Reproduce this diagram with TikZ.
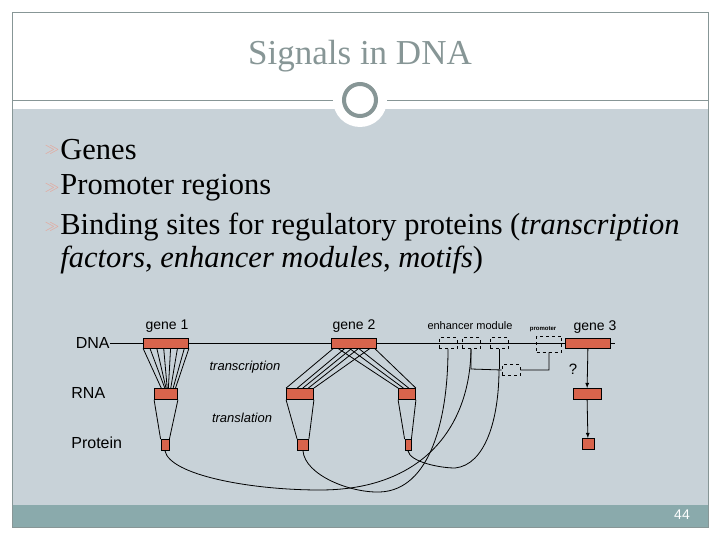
\documentclass[tikz,border=0pt]{standalone}
\usepackage{fontspec}
\setmainfont{Liberation Serif}
\setsansfont{Liberation Sans}
\usetikzlibrary{calc}
\definecolor{slidebg}{RGB}{200,210,216}
\definecolor{framegray}{RGB}{135,150,150}
\definecolor{barteal}{RGB}{138,170,172}
\definecolor{genered}{RGB}{216,100,76}
\begin{document}
\begin{tikzpicture}[x=1pt, y=-1pt, line width=0.8pt, font=\sffamily\fontsize{14}{16}\selectfont]
        \tikzset{gbox/.style={rectangle, draw=black, fill=genered, inner sep=0pt},
                 dbox/.style={rectangle, draw=black, dashed, inner sep=0pt, minimum width=18, minimum height=11},
                 bul/.style={text=genered!60, font=\fontsize{14}{14}\selectfont, inner sep=0pt},
                 item/.style={anchor=west, font=\rmfamily\fontsize{30.5}{32}\selectfont, inner sep=0pt},
                 lvl/.style={inner sep=0pt, font=\sffamily\fontsize{16}{18}\selectfont}}
        \useasboundingbox (0,0) rectangle (720,540);

        % slide
        \fill[white] (0,0) rectangle (720,540);
        \fill[slidebg] (12,109) rectangle (708,505);
        \fill[barteal] (12,505) rectangle (708,527);
        \draw[framegray, thin] (12,12) rectangle (708,527);
        \draw[framegray, thin] (12,100) -- (708,100);
        \fill[white] (360,100) circle (27);
        \draw[framegray, line width=4] (360,100) circle (16);
        \node[font=\rmfamily\fontsize{35}{37}\selectfont, text=framegray] (title) at (360,56) {Signals in DNA};
        \node[text=white, font=\sffamily\fontsize{14}{14}\selectfont] (page) at (682,515) {44};

        \node[bul] (b1) at (52,150) {$\gg$};
        \node[item] (t1) at (60,150) {Genes};
        \node[bul] (b2) at (52,188) {$\gg$};
        \node[item] (t2) at (60,188) {Promoter regions};
        \node[bul] (b3) at (52,227) {$\gg$};
        \node[item] (t3) at (60,227) {Binding sites for regulatory proteins (\textit{transcription}};
        \node[item] (t4) at (60,260) {\textit{factors}, \textit{enhancer modules}, \textit{motifs})};

        % levels
        \node[lvl, anchor=east] (dna) at (110,343) {DNA};
        \node[lvl, anchor=west] (rna) at (71,393) {RNA};
        \node[lvl, anchor=west] (prot) at (71,443) {Protein};
        \node[font=\sffamily\itshape\fontsize{13}{15}\selectfont] (tsc) at (245,367) {transcription};
        \node[font=\sffamily\itshape\fontsize{13}{15}\selectfont] (tsl) at (242,418) {translation};
        \draw (dna.east) -- (615,343);

        % genes
        \node[gbox, minimum width=45, minimum height=10] (g1) at (166,343) {};
        \node[gbox, minimum width=45, minimum height=10] (g2) at (354,343) {};
        \node[gbox, minimum width=45, minimum height=10] (g3) at (588,343) {};
        \node (l1) at (167,326) {gene 1};
        \node (l2) at (354,326) {gene 2};
        \node (l3) at (595,327) {gene 3};
        \node[font=\sffamily\bfseries\fontsize{6}{7}\selectfont] (lp) at (543,329) {promoter};
        \node[font=\sffamily\fontsize{11}{13}\selectfont] (le) at (470,326) {enhancer module};

        \node[gbox, minimum width=23, minimum height=11] (r1) at (166,394) {};
        \node[gbox, minimum width=27, minimum height=11] (r2) at (300,394) {};
        \node[gbox, minimum width=17, minimum height=11] (r3) at (407,394) {};
        \node[gbox, minimum width=28, minimum height=11] (r4) at (587,394) {};
        \node[gbox, minimum width=8, minimum height=11] (p1) at (165,445) {};
        \node[gbox, minimum width=11, minimum height=11] (p2) at (303,445) {};
        \node[gbox, minimum width=6, minimum height=11] (p3) at (408,445) {};
        \node[gbox, minimum width=12, minimum height=11] (p4) at (588,444) {};

        % signals
        \node[dbox] (e1) at (448,343) {};
        \node[dbox] (e2) at (471,343) {};
        \node[dbox] (e3) at (499,343) {};
        \node[dbox, minimum width=25, minimum height=16] (pr) at (549,344) {};
        \node[dbox] (e4) at (511,370) {};
        \coordinate (j) at (499,369);

        % transcription and translation
        \foreach \a/\b in {0/.3,.15/.45,.3/.5,.45/.55,.6/.6,.75/.7,.9/.8,1/.9}
            \draw ($(g1.south west)!\a!(g1.south east)$) -- ($(r1.north west)!\b!(r1.north east)$);
        \foreach \a/\b in {.05/0,.3/.4,.45/.6,.6/.8,.85/1}
            \draw ($(g2.south west)!\a!(g2.south east)$) -- ($(r2.north west)!\b!(r2.north east)$);
        \foreach \a/\b in {.15/0,.4/.3,.6/.6,.95/1}
            \draw ($(g2.south west)!\a!(g2.south east)$) -- ($(r3.north west)!\b!(r3.north east)$);
        \foreach \r/\p in {r1/p1,r2/p2,r3/p3} {
            \draw (\r.south west) -- (\p.north west);
            \draw (\r.south east) -- (\p.north east);
        }
        \draw[thick, -latex] (g3) -- (r4);
        \draw[thick, -latex] (r4) -- (p4);
        \node[font=\sffamily\fontsize{15}{17}\selectfont] (q) at (573,369) {?};

        % regulation
        \draw (e2.south) -- (471,369) -- (e4.west) (e4.east) -| (pr.south);
        \draw (e3.south) -- (j);
        \draw (p1.south) .. controls (170,475) and (250,490) .. (320,490)
            .. controls (420,490) and (470,430) .. (e2.south);
        \draw (p2.south) .. controls (305,475) and (350,493) .. (380,492)
            .. controls (430,490) and (448,420) .. (e1.south);
        \draw (p3.south) .. controls (410,462) and (440,468) .. (455,468)
            .. controls (485,465) and (499,420) .. (j);
\end{tikzpicture}
\end{document}
